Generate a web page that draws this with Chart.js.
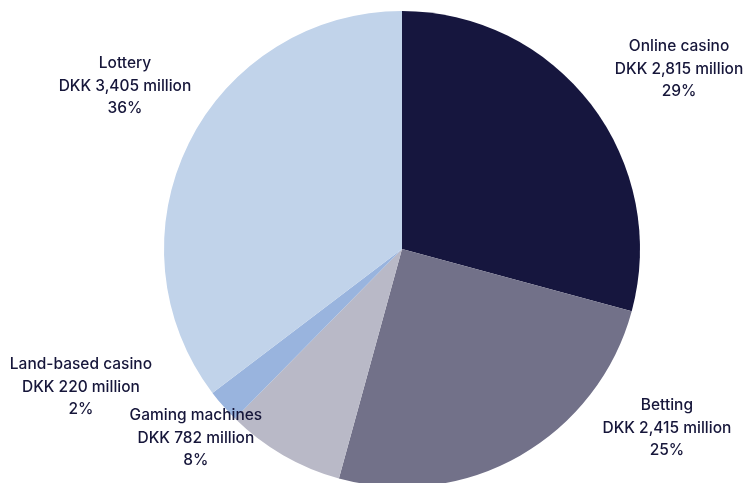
<!DOCTYPE html>
<html>
<head>
<meta charset="utf-8">
<script src="https://cdn.jsdelivr.net/npm/chart.js@4/dist/chart.umd.min.js"></script>
<style>
  html, body { margin: 0; padding: 0; background: #fff; overflow: hidden; }
  #wrap { width: 745px; height: 483px; overflow: hidden; }
</style>
</head>
<body>
<div id="wrap"><canvas id="pie" width="745" height="500"></canvas></div>
<script>
// gross gaming revenue by segment, DKK million
const segments = ['Online casino', 'Betting', 'Gaming machines', 'Land-based casino', 'Lottery'];
const revenue = [2815, 2415, 782, 220, 3405];
const amountText = ['DKK 2,815 million', 'DKK 2,415 million', 'DKK 782 million', 'DKK 220 million', 'DKK 3,405 million'];
const shareText = ['29%', '25%', '8%', '2%', '36%'];
const colours = ['#16163e', '#727189', '#b9b9c7', '#99b4de', '#c1d3ea'];

// where each label sits, in radii from the pie centre
const labelSpots = [[1.164, -0.756], [1.113, 0.752], [-0.866, 0.794], [-1.349, 0.580], [-1.164, -0.685]];

const pieLabels = {
  id: 'pieLabels',
  afterDraw(chart) {
    const ctx = chart.ctx;
    const arc = chart.getDatasetMeta(0).data[0];
    const cx = arc.x, cy = arc.y, r = arc.outerRadius;
    ctx.save();
    ctx.font = '500 15.5px Inter, "Noto Sans", sans-serif';
    ctx.fillStyle = '#16163a';
    ctx.textAlign = 'center';
    ctx.textBaseline = 'middle';
    segments.forEach((name, i) => {
      const x = cx + r * labelSpots[i][0];
      const y = cy + r * labelSpots[i][1];
      ctx.fillText(name, x, y - 22.5);
      ctx.fillText(amountText[i], x, y);
      ctx.fillText(shareText[i], x, y + 22.5);
    });
    ctx.restore();
  }
};

new Chart(document.getElementById('pie').getContext('2d'), {
  type: 'pie',
  data: {
    labels: segments,
    datasets: [{
      data: revenue,
      backgroundColor: colours,
      borderWidth: 0
    }]
  },
  options: {
    responsive: false,
    animation: false,
    layout: { padding: { left: 164, right: 105, top: 11, bottom: 13 } },
    plugins: {
      legend: { display: false },
      tooltip: { enabled: false }
    }
  },
  plugins: [pieLabels]
});
</script>
</body>
</html>
